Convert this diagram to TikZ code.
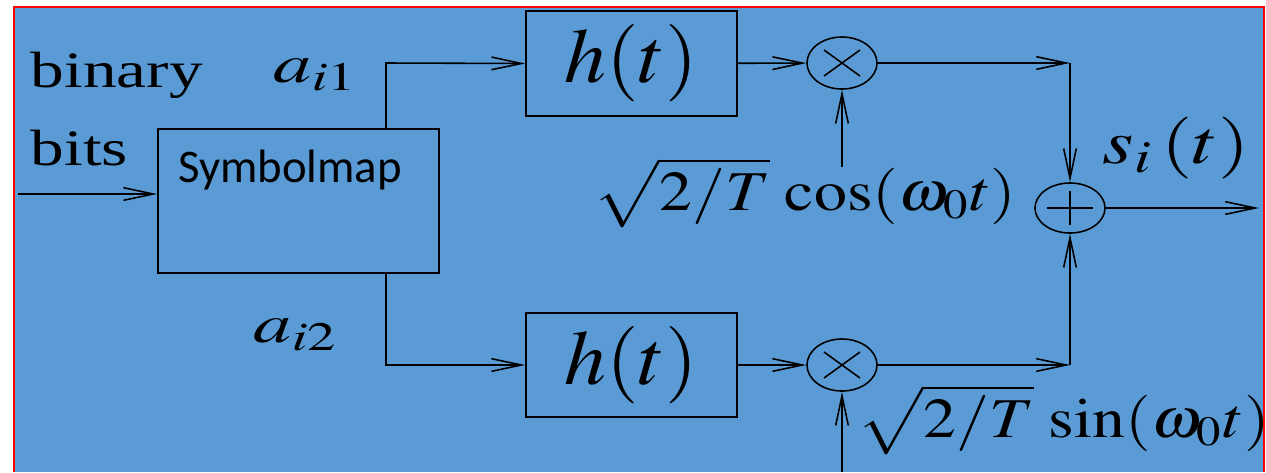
\documentclass[tikz,border=0pt]{standalone}
\usepackage{fontspec}
\usepackage{mathptmx}
\usepackage{graphicx}
\setmainfont{Liberation Serif}
\newfontfamily\mapfont{Carlito}
\usetikzlibrary{arrows.meta,shapes.geometric}
\definecolor{bgblue}{RGB}{91,155,213}
\newcommand{\wtxt}[2]{\scalebox{#1}[1]{#2}}
\tikzset{
  arr/.style={-{Straight Barb[length=8.5pt,width=3.6pt]}, line width=0.45pt},
  blk/.style={draw, line width=0.45pt, rectangle, inner sep=0pt},
  mult/.style={draw, line width=0.45pt, ellipse, minimum width=0.7cm, minimum height=0.52cm, inner sep=0pt,
    path picture={\draw[line width=0.45pt] ([shift={(-0.18cm,-0.13cm)}]path picture bounding box.center) -- ([shift={(0.18cm,0.13cm)}]path picture bounding box.center)
      ([shift={(-0.18cm,0.13cm)}]path picture bounding box.center) -- ([shift={(0.18cm,-0.13cm)}]path picture bounding box.center);}},
  summ/.style={draw, line width=0.45pt, ellipse, minimum width=0.7cm, minimum height=0.5cm, inner sep=0pt,
    path picture={\draw[line width=0.45pt] ([xshift=-0.23cm]path picture bounding box.center) -- ([xshift=0.23cm]path picture bounding box.center)
      ([yshift=-0.17cm]path picture bounding box.center) -- ([yshift=0.17cm]path picture bounding box.center);}},
  lbl/.style={inner sep=0pt, anchor=base west}
}
\begin{document}
\begin{tikzpicture}[x=0.01cm, y=-0.01cm]
\useasboundingbox (0,0) rectangle (1266,472);
\fill[white] (0,0) rectangle (1266,472);
\fill[bgblue] (14,7) rectangle (1264,472);
\draw[red, line width=0.6pt] (14,472) -- (14,7) -- (1264,7) -- (1264,472);

\node[blk, minimum width=2.81cm, minimum height=1.44cm] (map) at (298.5,201) {};
\node[inner sep=0pt, font=\mapfont\fontsize{13.3}{16}\selectfont] (maptxt) at (290,170) {Symbolmap};
\node[blk, minimum width=2.11cm, minimum height=1.05cm, font=\fontsize{22}{26}\selectfont] (h1) at (631.5,63.5) {\wtxt{1.08}{$h(t)$}};
\node[blk, minimum width=2.11cm, minimum height=1.04cm, font=\fontsize{22}{26}\selectfont] (h2) at (631.5,365) {\wtxt{1.08}{$h(t)$}};
\node[mult] (m1) at (842,63) {};
\node[mult] (m2) at (842,365) {};
\node[summ] (add) at (1070,208) {};

\coordinate (in) at (18,194);
\coordinate (up) at (386,63);
\coordinate (dn) at (386,365);
\coordinate (c1) at (842,167);
\coordinate (c2) at (842,472);
\coordinate (j1) at (1070,63);
\coordinate (j2) at (1070,365);
\coordinate (out) at (1259,208);

\node[lbl, font=\fontsize{14.5}{17}\selectfont] (bin) at (30,87) {\wtxt{1.32}{binary}};
\node[lbl, font=\fontsize{14.5}{17}\selectfont] (bits) at (30,165) {\wtxt{1.32}{bits}};
\node[lbl, font=\fontsize{15.5}{18}\selectfont] (a1) at (273,82) {\wtxt{1.4}{$a_{i1}$}};
\node[lbl, font=\fontsize{15.5}{18}\selectfont] (a2) at (253,342) {\wtxt{1.4}{$a_{i2}$}};
\node[lbl, font=\fontsize{16}{19}\selectfont] (cosl) at (593,210) {\wtxt{1.17}{$\sqrt{2/T}\,\cos(\omega_0 t)$}};
\node[lbl, font=\fontsize{16}{19}\selectfont] (sinl) at (857,437) {\wtxt{1.17}{$\sqrt{2/T}\,\sin(\omega_0 t)$}};
\node[lbl, font=\fontsize{17.6}{21}\selectfont] (sout) at (1102,163) {\wtxt{1.3}{$s_i\,(t)$}};

\draw[arr] (in) -- (in -| map.west);
\draw[arr] (map.north -| up) -- (up) -- (h1.west);
\draw[arr] (map.south -| dn) -- (dn) -- (h2.west);
\draw[arr] (h1) -- (m1);
\draw[arr] (h2) -- (m2);
\draw[arr] (c1) -- (m1);
\draw[arr] (c2) -- (m2);
\draw[arr] (m1) -- (j1);
\draw[arr] (m2) -- (j2);
\draw[arr] (j1) -- (add);
\draw[arr] (j2) -- (add);
\draw[arr] (add) -- (out);
\end{tikzpicture}
\end{document}
